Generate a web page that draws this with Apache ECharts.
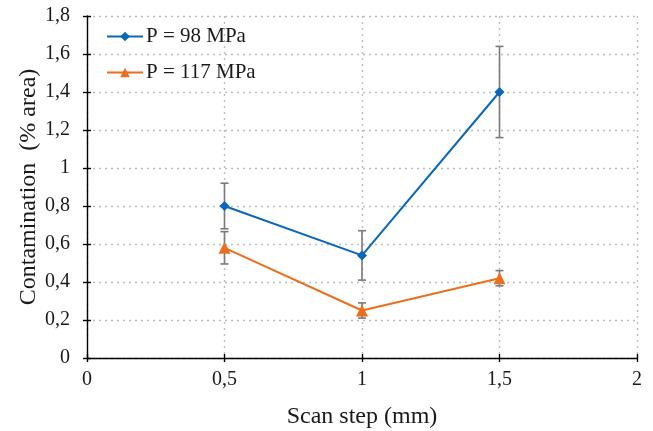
<!DOCTYPE html>
<html><head><meta charset="utf-8">
<script src="https://cdn.jsdelivr.net/npm/echarts@6/dist/echarts.min.js"></script>
<style>html,body{margin:0;padding:0;background:#fff}#c{width:653px;height:431px}</style>
</head><body><div id="c"></div>
<script>
var xValues = [0.5, 1, 1.5];
var seriesNames = ['P = 98 MPa', 'P = 117 MPa'];
var p98 = [0.80, 0.54, 1.40];
var p98Err = [0.12, 0.13, 0.24];
var p117 = [0.58, 0.25, 0.42];
var p117Err = [0.085, 0.04, 0.04];

var FONT = '"Liberation Serif", "Times New Roman", serif';
function comma(v){ return String(v).replace('.', ','); }

function errData(vals, errs){
  return xValues.map(function(x,i){ return [x, vals[i]-errs[i], vals[i]+errs[i]]; });
}
function errRender(params, api){
  var x = api.value(0), lo = api.value(1), hi = api.value(2);
  var pLo = api.coord([x, lo]), pHi = api.coord([x, hi]);
  var w = 4;
  var st = {stroke:'#7a7a7a', lineWidth:1.6};
  return {type:'group', children:[
    {type:'line', shape:{x1:pLo[0],y1:pLo[1],x2:pHi[0],y2:pHi[1]}, style:st},
    {type:'line', shape:{x1:pLo[0]-w,y1:pLo[1],x2:pLo[0]+w,y2:pLo[1]}, style:st},
    {type:'line', shape:{x1:pHi[0]-w,y1:pHi[1],x2:pHi[0]+w,y2:pHi[1]}, style:st}
  ]};
}
function pts(vals){ return xValues.map(function(x,i){ return [x, vals[i]]; }); }

var axisLine = {show:true, lineStyle:{color:'#000', width:1.4}};
var axisTick = {show:true, length:4, lineStyle:{color:'#000', width:1.4}};
var chart = echarts.init(document.getElementById('c'), null, {renderer:'canvas'});
chart.setOption({
  animation:false,
  grid:{left:87, right:16, top:16, bottom:73, containLabel:false, outerBoundsMode:'none'},
  legend:{
    orient:'vertical', left:101, top:21, itemGap:15, itemWidth:36, itemHeight:12,
    textStyle:{fontFamily:FONT, fontSize:21, color:'#1a1a1a', padding:[0,0,0,-2]},
    data:seriesNames
  },
  xAxis:[{
    type:'value', min:0, max:2, interval:0.5,
    axisLine:axisLine, axisTick:axisTick,
    axisLabel:{fontFamily:FONT, fontSize:20, color:'#1a1a1a', margin:12, formatter:comma},
    splitLine:{show:true, lineStyle:{color:'#bdbdbd', type:[2,4], width:1.4}},
    name:'Scan step (mm)', nameLocation:'middle', nameGap:47, nameMoveOverlap:false,
    nameTextStyle:{fontFamily:FONT, fontSize:24, color:'#1a1a1a'}
  },{
    type:'value', min:0, max:2, interval:0.5, position:'bottom',
    axisLine:{show:false}, axisTick:{show:true, inside:true, length:4, lineStyle:{color:'#000', width:1.4}},
    axisLabel:{show:false}, splitLine:{show:false}
  }],
  yAxis:[{
    type:'value', min:0, max:1.8, interval:0.2,
    axisLine:axisLine, axisTick:axisTick,
    axisLabel:{fontFamily:FONT, fontSize:20, color:'#1a1a1a', margin:17,
      formatter:function(v){ return comma(Math.round(v*10)/10); }},
    splitLine:{show:true, lineStyle:{color:'#bdbdbd', type:[2,4], width:1.4}},
    name:'Contamination  (% area)', nameLocation:'middle', nameGap:46, nameMoveOverlap:false,
    nameTextStyle:{fontFamily:FONT, fontSize:24, color:'#1a1a1a'}
  },{
    type:'value', min:0, max:1.8, interval:0.2, position:'left',
    axisLine:{show:false}, axisTick:{show:true, inside:true, length:4, lineStyle:{color:'#000', width:1.4}},
    axisLabel:{show:false}, splitLine:{show:false}
  }],
  series:[
    {type:'custom', name:'err98', renderItem:errRender, data:errData(p98, p98Err), z:1, silent:true, encode:{x:0, y:[1,2]}},
    {type:'custom', name:'err117', renderItem:errRender, data:errData(p117, p117Err), z:1, silent:true, encode:{x:0, y:[1,2]}},
    {type:'line', name:seriesNames[0], data:pts(p98), symbol:'diamond', symbolSize:10,
      itemStyle:{color:'#0868bd'}, lineStyle:{color:'#0868bd', width:2}, z:3},
    {type:'line', name:seriesNames[1], data:pts(p117), symbol:'triangle', symbolSize:12,
      itemStyle:{color:'#ec6f1e'}, lineStyle:{color:'#ec6f1e', width:2}, z:3}
  ]
});
</script></body></html>
